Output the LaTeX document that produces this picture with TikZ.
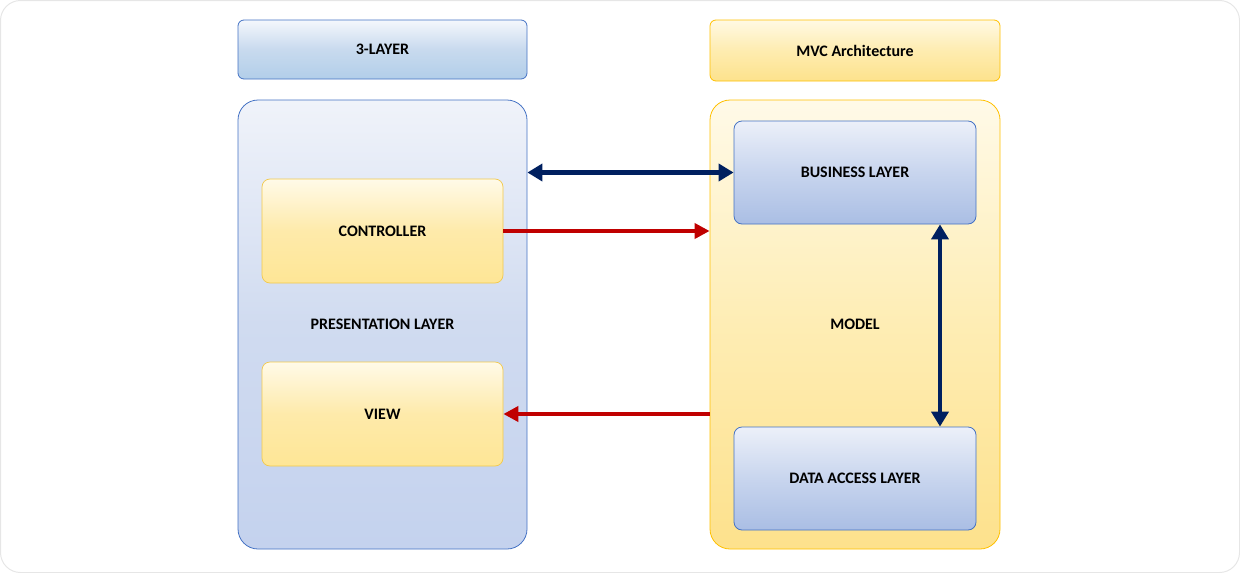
\documentclass[tikz,border=0pt]{standalone}
\usepackage{fontspec}
\setmainfont{Carlito}
\usetikzlibrary{arrows.meta}
\definecolor{bluebd}{HTML}{4472C4}
\definecolor{yelbd}{HTML}{FFC000}
\definecolor{yelbd2}{HTML}{F2C94C}
\definecolor{navy}{HTML}{002060}
\definecolor{darkred}{HTML}{C00000}
\definecolor{frame}{HTML}{E6E6E6}
\tikzset{
  txt/.style={font=\bfseries\fontsize{16}{18}\selectfont, text=black},
  titleblue/.style={txt, draw=bluebd, line width=0.8pt, rounded corners=6pt,
    top color={rgb,255:red,244;green,247;blue,252}, bottom color={rgb,255:red,178;green,206;blue,233}, middle color={rgb,255:red,200;green,218;blue,238}},
  titleyel/.style={txt, draw=yelbd, line width=0.8pt, rounded corners=6pt,
    top color={rgb,255:red,255;green,249;blue,228}, bottom color={rgb,255:red,253;green,226;blue,140}, middle color={rgb,255:red,254;green,236;blue,176}},
  bigblue/.style={txt, draw=bluebd, line width=0.8pt, rounded corners=20pt,
    top color={rgb,255:red,240;green,243;blue,250}, bottom color={rgb,255:red,196;green,210;blue,238}, middle color={rgb,255:red,208;green,219;blue,240}},
  bigyel/.style={txt, draw=yelbd, line width=0.8pt, rounded corners=20pt,
    top color={rgb,255:red,255;green,250;blue,232}, bottom color={rgb,255:red,253;green,225;blue,140}, middle color={rgb,255:red,254;green,237;blue,180}},
  smallyel/.style={txt, draw=yelbd2, line width=0.7pt, rounded corners=8pt,
    top color={rgb,255:red,255;green,250;blue,232}, bottom color={rgb,255:red,254;green,230;blue,150}, middle color={rgb,255:red,254;green,234;blue,170}},
  smallblue/.style={txt, draw=bluebd, line width=0.8pt, rounded corners=8pt,
    top color={rgb,255:red,236;green,240;blue,249}, bottom color={rgb,255:red,170;green,190;blue,228}, middle color={rgb,255:red,200;green,213;blue,238}},
  navyarrow/.style={draw=navy, line width=4.5pt, {Triangle[length=15pt,width=17pt]}-{Triangle[length=15pt,width=17pt]}},
  redarrow/.style={draw=darkred, line width=4.5pt, -{Triangle[length=15pt,width=15pt]}},
}
\begin{document}
\begin{tikzpicture}[x=1pt,y=-1pt]
\useasboundingbox (0,0) rectangle (1240,573);
\draw[frame, line width=1pt, rounded corners=20pt] (0.5,0.5) rectangle (1239.5,572.5);

\node[titleblue, minimum width=289pt, minimum height=59pt] (t3) at (382.5,49.5) {3-LAYER};
\node[titleyel, minimum width=290pt, minimum height=61pt] (tm) at (855,50.5) {MVC Architecture};

\node[bigblue, minimum width=289pt, minimum height=449pt] (pres) at (382.5,324.5) {PRESENTATION LAYER};
\node[bigyel, minimum width=290pt, minimum height=449pt] (model) at (855,324.5) {MODEL};

\node[smallyel, minimum width=241pt, minimum height=104pt] (ctrl) at (382.5,231) {CONTROLLER};
\node[smallyel, minimum width=241pt, minimum height=104pt] (view) at (382.5,414) {VIEW};

\node[smallblue, minimum width=242pt, minimum height=103pt] (bus) at (855,172.5) {BUSINESS LAYER};
\node[smallblue, minimum width=242pt, minimum height=103pt] (dal) at (855,478.5) {DATA ACCESS LAYER};

\draw[navyarrow] (pres.east |- bus.west) -- (bus.west);
\draw[redarrow] (ctrl.east) -- (model.west |- ctrl.east);
\draw[redarrow] (model.west |- view.east) -- (view.east);
\draw[navyarrow] ([xshift=85pt]bus.south) -- ([xshift=85pt]dal.north);
\end{tikzpicture}
\end{document}
